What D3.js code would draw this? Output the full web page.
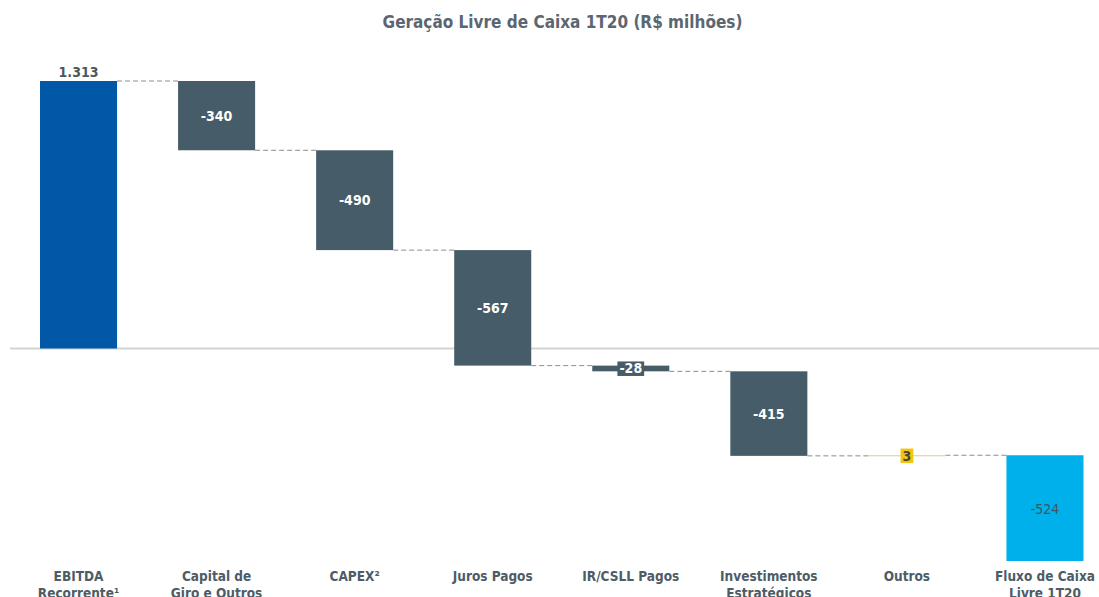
<!DOCTYPE html>
<html>
<head>
<meta charset="utf-8">
<script src="https://cdn.jsdelivr.net/npm/d3@7"></script>
<style>
  html, body { margin: 0; padding: 0; background: #ffffff; }
  svg { display: block; }
  text { font-family: "DejaVu Sans Condensed", "DejaVu Sans", Verdana, sans-serif; }
</style>
</head>
<body>
<svg id="chart" width="1099" height="597"></svg>
<script>
// Waterfall: free cash flow build-up for 1T20 (R$ millions)
const titleText = "Geração Livre de Caixa 1T20 (R$ milhões)";
const categories = ["EBITDA", "Capital", "CAPEX", "Juros", "IR", "Invest", "Outros", "Fluxo"];
const tickLabels = [
  ["EBITDA", "Recorrente¹"],
  ["Capital de", "Giro e Outros"],
  ["CAPEX²"],
  ["Juros Pagos"],
  ["IR/CSLL Pagos"],
  ["Investimentos", "Estratégicos"],
  ["Outros"],
  ["Fluxo de Caixa", "Livre 1T20"]
];
const values = [1313, -340, -490, -567, -28, -415, 3, -524];
const barKinds = ["start", "step", "step", "step", "step", "step", "step", "end"];
const valueLabels = ["1.313", "-340", "-490", "-567", "-28", "-415", "3", "-524"];
const axisFloor = -1043;

const svg = d3.select("#chart");

// running totals for each bar
let running = 0;
const bars = categories.map((c, i) => {
  let y0, y1;
  if (barKinds[i] === "start") { y0 = 0; y1 = values[i]; running = values[i]; }
  else if (barKinds[i] === "end") { y0 = axisFloor; y1 = values[i]; }
  else { y0 = running; y1 = running + values[i]; running = y1; }
  return { key: c, i, y0, y1 };
});

const x = d3.scaleBand()
  .domain(categories)
  .range([9.5, 1114])
  .paddingInner(0.442)
  .paddingOuter(0.221);

const y = d3.scaleLinear()
  .domain([0, 1313])
  .range([348.5, 81]);

const colors = {
  start: "#0058a6",
  step: "#465c68",
  end: "#00b0ea",
  small: "#dccb8c"
};

// zero line
svg.append("line")
  .attr("x1", 10).attr("x2", 1099)
  .attr("y1", y(0)).attr("y2", y(0))
  .attr("stroke", "#d4d4d4").attr("stroke-width", 2);

// connectors between consecutive bars at the running level
const connectors = svg.append("g");
for (let i = 0; i < bars.length - 1; i++) {
  const lvl = bars[i].y1;
  const xa = x(categories[i]) + x.bandwidth();
  const xb = x(categories[i + 1]);
  connectors.append("line")
    .attr("x1", xa).attr("x2", xb)
    .attr("y1", y(lvl)).attr("y2", y(lvl))
    .attr("stroke", "#8c8c8c")
    .attr("stroke-width", 1)
    .attr("stroke-dasharray", "5,3");
}

// bars
svg.append("g").selectAll("rect")
  .data(bars)
  .join("rect")
  .attr("x", d => x(d.key))
  .attr("width", x.bandwidth())
  .attr("y", d => y(Math.max(d.y0, d.y1)))
  .attr("height", d => Math.max(1, Math.abs(y(d.y0) - y(d.y1))))
  .attr("fill", d => {
    if (barKinds[d.i] === "start") return colors.start;
    if (barKinds[d.i] === "end") return colors.end;
    if (Math.abs(values[d.i]) < 10) return colors.small;
    return colors.step;
  });

// value labels
const lbl = svg.append("g");
bars.forEach((d, i) => {
  const cx = x(d.key) + x.bandwidth() / 2;
  const kind = barKinds[i];
  if (kind === "start") {
    lbl.append("text")
      .attr("x", cx).attr("y", y(d.y1) - 4)
      .attr("text-anchor", "middle")
      .attr("font-size", 14).attr("font-weight", "bold")
      .attr("fill", "#4b5862")
      .text(valueLabels[i]);
  } else if (kind === "end") {
    lbl.append("text")
      .attr("x", cx).attr("y", (y(d.y1) + y(d.y0)) / 2 + 6)
      .attr("text-anchor", "middle")
      .attr("font-size", 14)
      .attr("fill", "#3e5566")
      .text(valueLabels[i]);
  } else {
    const mid = (y(d.y0) + y(d.y1)) / 2;
    const h = Math.abs(y(d.y0) - y(d.y1));
    if (h > 20) {
      lbl.append("text")
        .attr("x", cx).attr("y", mid + 5)
        .attr("text-anchor", "middle")
        .attr("font-size", 14).attr("font-weight", "bold")
        .attr("fill", "#ffffff")
        .text(valueLabels[i]);
    } else {
      const small = Math.abs(values[i]) < 10;
      const t = lbl.append("text")
        .attr("x", cx).attr("y", mid + 5)
        .attr("text-anchor", "middle")
        .attr("font-size", 14).attr("font-weight", "bold")
        .attr("fill", small ? "#4a4630" : "#ffffff")
        .text(valueLabels[i]);
      const bb = t.node().getBBox();
      lbl.insert("rect", () => t.node())
        .attr("x", bb.x - 2).attr("y", mid - 7)
        .attr("width", bb.width + 4).attr("height", 14.5)
        .attr("fill", small ? "#f2c512" : colors.step);
    }
  }
});

// category labels
const ticks = svg.append("g");
categories.forEach((c, i) => {
  const cx = x(c) + x.bandwidth() / 2;
  const t = ticks.append("text")
    .attr("x", cx).attr("y", 581)
    .attr("text-anchor", "middle")
    .attr("font-size", 13.5).attr("font-weight", "bold")
    .attr("fill", "#4d5c66");
  tickLabels[i].forEach((line, k) => {
    t.append("tspan").attr("x", cx).attr("dy", k === 0 ? 0 : 17).text(line);
  });
});

// title
svg.append("text")
  .attr("x", 562.5).attr("y", 28)
  .attr("text-anchor", "middle")
  .attr("font-size", 17).attr("font-weight", "bold")
  .attr("fill", "#5b6670")
  .text(titleText);
</script>
</body>
</html>
